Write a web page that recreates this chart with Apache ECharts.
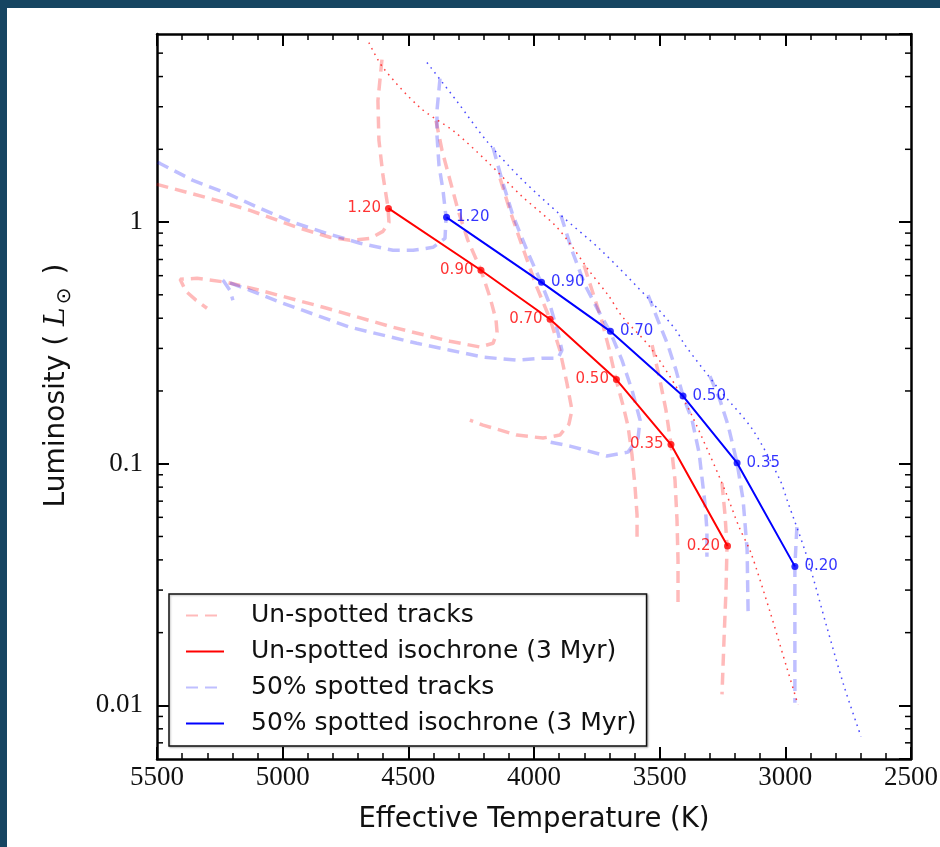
<!DOCTYPE html>
<html><head><meta charset="utf-8">
<script src="https://cdn.jsdelivr.net/npm/echarts/dist/echarts.min.js"></script>
<style>
html,body{margin:0;padding:0;width:940px;height:847px;overflow:hidden;background:#164561;}
#bg{position:absolute;left:7px;top:8px;width:933px;height:839px;background:#fff;}
#chart{position:absolute;left:0;top:0;width:940px;height:847px;}
</style></head><body><div id="bg"></div><div id="chart"></div>
<script>
// ---- data ----
const masses = ['1.20','0.90','0.70','0.50','0.35','0.20'];
const unspottedIsoT = [4579,4211,3936,3672,3455,3230];
const unspottedIsoL = [1.139,0.632,0.396,0.223,0.120,0.0457];
const spottedIsoT = [4348,3970,3696,3407,3192,2962];
const spottedIsoL = [1.046,0.563,0.353,0.1905,0.1007,0.0376];

const unspottedTrack120 = [[4605,4.70],[4621,3.18],[4617,2.18],[4601,1.56],[4581,1.15],[4577,0.997],[4601,0.915],[4652,0.856],[4732,0.840],[4812,0.865],[4943,0.951],[5130,1.118],[5261,1.229],[5500,1.432],[5600,1.530]];
const unspottedTrack090 = [[4390,2.63],[4366,1.98],[4334,1.487],[4302,1.118],[4263,0.840],[4211,0.632],[4175,0.488],[4151,0.393],[4147,0.350],[4163,0.315],[4215,0.304],[4334,0.321],[4561,0.367],[4824,0.440],[5090,0.522],[5221,0.563],[5341,0.585],[5408,0.580],[5385,0.517],[5345,0.475],[5301,0.440]];
const unspottedTrack070 = [[4135,1.516],[4096,1.118],[4048,0.801],[3992,0.548],[3936,0.396],[3897,0.295],[3869,0.2156],[3849,0.1667],[3861,0.1459],[3897,0.1314],[3964,0.1277],[4068,0.1314],[4203,0.1445],[4255,0.1516]];
const unspottedTrack050 = [[3801,0.6625],[3769,0.522],[3733,0.400],[3702,0.3007],[3674,0.2239],[3646,0.1748],[3626,0.1432],[3610,0.1086],[3598,0.0801],[3590,0.0614],[3590,0.0498]];
const unspottedTrack035 = [[3530,0.3093],[3499,0.2218],[3475,0.1667],[3455,0.1206],[3439,0.0856],[3431,0.0585],[3427,0.040],[3427,0.0253]];
const unspottedTrack020 = [[3252,0.0832],[3240,0.0614],[3232,0.0457],[3236,0.0301],[3244,0.0187],[3252,0.0111]];

const spottedTrack120 = [[4374,3.925],[4386,2.894],[4386,2.282],[4378,1.715],[4362,1.352],[4350,1.046],[4354,0.856],[4402,0.786],[4481,0.764],[4561,0.764],[4692,0.817],[4824,0.898],[4959,0.997],[5090,1.139],[5221,1.314],[5357,1.487],[5488,1.748],[5600,1.997]];
const spottedTrack090 = [[4163,2.035],[4127,1.487],[4084,1.066],[4028,0.764],[3972,0.563],[3936,0.4527],[3904,0.3467],[3889,0.295],[3904,0.2734],[3964,0.2734],[4068,0.2682],[4203,0.276],[4334,0.295],[4466,0.315],[4732,0.367],[4999,0.4614],[5130,0.522],[5237,0.5741],[5210,0.522],[5198,0.475]];
const spottedTrack070 = [[3893,1.066],[3849,0.764],[3797,0.548],[3745,0.4316],[3698,0.3534],[3650,0.2682],[3610,0.2016],[3578,0.1516],[3586,0.1277],[3626,0.1117],[3710,0.1076],[3857,0.1183],[3936,0.1229]];
const spottedTrack050 = [[3546,0.498],[3507,0.393],[3467,0.3093],[3435,0.2439],[3407,0.1905],[3371,0.1516],[3343,0.1107],[3320,0.0688],[3312,0.0532],[3312,0.0412]];
const spottedTrack035 = [[3300,0.2304],[3260,0.1833],[3228,0.1445],[3192,0.1007],[3168,0.0708],[3152,0.044],[3148,0.0237]];
const spottedTrack020 = [[2954,0.0547],[2962,0.0378],[2962,0.0226],[2962,0.01026]];

const unspottedDotted = [[4657,5.53],[4601,4.36],[4454,2.978],[4318,2.371],[4187,1.782],[4052,1.289],[3916,0.969],[3849,0.794],[3785,0.6375],[3702,0.4932],[3650,0.4076],[3535,0.3007],[3399,0.1799],[3304,0.1107],[3236,0.0757],[3184,0.0547],[3137,0.0428],[3061,0.0244],[2993,0.0142],[2950,0.0101]];
const spottedDotted = [[4426,4.57],[4306,3.153],[4187,2.156],[4052,1.516],[3893,1.066],[3733,0.764],[3535,0.4702],[3435,0.3568],[3399,0.3093],[3264,0.2035],[3129,0.1378],[3021,0.0856],[2993,0.0708],[2914,0.0412],[2834,0.02095],[2767,0.01207],[2699,0.00743]];

const xTickValues = [5500,5000,4500,4000,3500,3000,2500];
const yTickLabels = {'-2':'0.01','-1':'0.1','0':'1'};
const yMinorTicks = [0.007,0.008,0.009,0.02,0.03,0.04,0.05,0.06,0.07,0.08,0.09,0.2,0.3,0.4,0.5,0.6,0.7,0.8,0.9,2,3,4,5];
const legendNames = ['Un-spotted tracks','Un-spotted isochrone (3 Myr)','50% spotted tracks','50% spotted isochrone (3 Myr)'];

// ---- styles ----
const RED = '#ff0000', BLUE = '#0000ff';
const RED_LIGHT = 'rgba(255,0,0,0.27)', BLUE_LIGHT = 'rgba(0,0,255,0.25)';
const serif = 'Liberation Serif';
const sans = 'DejaVu Sans';

function track(name, data, color) {
  return {type:'line', name:name, data:data, symbol:'none', z:1,
    lineStyle:{color:color, width:3.5, type:[12,7]}, itemStyle:{color:color},
    emphasis:{disabled:true}, animation:false};
}
function dotted(data, color) {
  return {type:'line', data:data, symbol:'none', z:2, smooth:0.3,
    lineStyle:{color:color, width:1.5, type:[1.6,4.6]}, emphasis:{disabled:true}, animation:false};
}
function iso(name, T, L, color) {
  return {type:'line', name:name, data:T.map((t,i)=>[t,L[i]]), symbol:'none', z:3,
    lineStyle:{color:color, width:2}, itemStyle:{color:color}, emphasis:{disabled:true}, animation:false};
}
function isoDots(T, L, color, pos, dist) {
  return {type:'scatter', data:T.map((t,i)=>[t,L[i],masses[i]]), symbolSize:7, z:4,
    itemStyle:{color:color}, emphasis:{disabled:true}, animation:false,
    label:{show:true, position:pos, distance:dist, formatter:p=>p.data[2],
      color:color, fontFamily:sans, fontSize:15}};
}

const chart = echarts.init(document.getElementById('chart'), null, {renderer:'canvas'});
const axisCommon = {
  axisLine:{show:true, onZero:false, lineStyle:{color:'#000', width:2.5}},
  splitLine:{show:false},
};
const option = {
  animation:false,
  grid:{left:157, right:29, top:34, bottom:88, containLabel:false, outerBoundsMode:'none'},
  legend:{
    data:legendNames, orient:'vertical', left:169, top:594, selectedMode:false,
    itemWidth:38, itemHeight:14, itemGap:11, padding:[9,10,10,16],
    itemStyle:{opacity:0},
    backgroundColor:'#fff', borderColor:'#111', borderWidth:1.5, borderRadius:0,
    shadowColor:'rgba(0,0,0,0.25)', shadowOffsetX:1, shadowOffsetY:1, shadowBlur:2,
    textStyle:{fontFamily:sans, fontSize:25, color:'#111', padding:[0,0,0,22]}
  },
  xAxis:[
    Object.assign({type:'value', min:2500, max:5500, interval:500, inverse:true, position:'bottom',
      name:'Effective Temperature (K)', nameLocation:'middle', nameGap:47,
      nameTextStyle:{fontFamily:sans, fontSize:27.5, color:'#111'},
      axisTick:{show:true, inside:true, length:12, lineStyle:{color:'#000', width:2}},
      minorTick:{show:true, splitNumber:5, length:6, lineStyle:{color:'#000', width:1.5}},
      axisLabel:{show:true, margin:5, fontFamily:serif, fontSize:27, color:'#111',
        formatter:v=>xTickValues.includes(v)?String(v):''}}, axisCommon),
    Object.assign({type:'value', min:2500, max:5500, interval:500, inverse:true, position:'top',
      axisTick:{show:true, inside:true, length:12, lineStyle:{color:'#000', width:2}},
      minorTick:{show:true, splitNumber:5, length:6, lineStyle:{color:'#000', width:1.5}},
      axisLabel:{show:false}}, axisCommon)
  ],
  yAxis:[
    Object.assign({type:'log', logBase:10, min:0.006, max:6, position:'left',
      name:'{a|Luminosity (}{b|L}{c|⊙}{a|)}', nameLocation:'middle', nameGap:82,
      nameTextStyle:{fontFamily:sans, fontSize:28, color:'#111', padding:[0,0,0,22],
        rich:{a:{fontFamily:sans, fontSize:28, color:'#111', lineHeight:36, verticalAlign:'middle'},
              b:{fontFamily:'DejaVu Serif', fontStyle:'italic', fontSize:28, color:'#111', lineHeight:36, verticalAlign:'middle', padding:[0,0,0,9]},
              c:{fontFamily:'DejaVu Sans', fontSize:20, color:'#111', lineHeight:18, verticalAlign:'bottom', padding:[0,13,0,3]}}},
      axisTick:{show:true, inside:true, length:12, lineStyle:{color:'#000', width:2}},
      axisLabel:{show:true, margin:14, fontFamily:serif, fontSize:27, color:'#111',
        showMinLabel:false, showMaxLabel:false,
        formatter:v=>{const e=Math.log10(v); const r=Math.round(e); return Math.abs(e-r)<1e-6 ? (yTickLabels[String(r)]||'') : '';}}}, axisCommon),
    Object.assign({type:'log', logBase:10, min:0.006, max:6, position:'right',
      axisTick:{show:true, inside:true, length:12, lineStyle:{color:'#000', width:2}},
      axisLabel:{show:false}}, axisCommon)
  ],
  series:[
    track('Un-spotted tracks', unspottedTrack120, RED_LIGHT),
    track('Un-spotted tracks', unspottedTrack090, RED_LIGHT),
    track('Un-spotted tracks', unspottedTrack070, RED_LIGHT),
    track('Un-spotted tracks', unspottedTrack050, RED_LIGHT),
    track('Un-spotted tracks', unspottedTrack035, RED_LIGHT),
    track('Un-spotted tracks', unspottedTrack020, RED_LIGHT),
    track('50% spotted tracks', spottedTrack120, BLUE_LIGHT),
    track('50% spotted tracks', spottedTrack090, BLUE_LIGHT),
    track('50% spotted tracks', spottedTrack070, BLUE_LIGHT),
    track('50% spotted tracks', spottedTrack050, BLUE_LIGHT),
    track('50% spotted tracks', spottedTrack035, BLUE_LIGHT),
    track('50% spotted tracks', spottedTrack020, BLUE_LIGHT),
    dotted(unspottedDotted, 'rgba(255,0,0,0.75)'),
    dotted(spottedDotted, 'rgba(0,0,255,0.7)'),
    iso('Un-spotted isochrone (3 Myr)', unspottedIsoT, unspottedIsoL, RED),
    iso('50% spotted isochrone (3 Myr)', spottedIsoT, spottedIsoL, BLUE),
    isoDots(unspottedIsoT, unspottedIsoL, RED, 'left', 4),
    isoDots(spottedIsoT, spottedIsoL, BLUE, 'right', 6),
    {type:'custom', silent:true, clip:false, z:5, animation:false,
      data:yMinorTicks.map(v=>[5500,v]), encode:{x:0,y:1},
      renderItem:(params, api)=>{
        const v = api.value(1);
        const l = api.coord([5500, v]);
        const r = api.coord([2500, v]);
        return {type:'group', children:[
          {type:'line', shape:{x1:l[0], y1:l[1], x2:l[0]+6, y2:l[1]}, style:{stroke:'#000', lineWidth:1.5}},
          {type:'line', shape:{x1:r[0], y1:r[1], x2:r[0]-6, y2:r[1]}, style:{stroke:'#000', lineWidth:1.5}}
        ]};
      }}
  ]
};
chart.setOption(option);
</script></body></html>
